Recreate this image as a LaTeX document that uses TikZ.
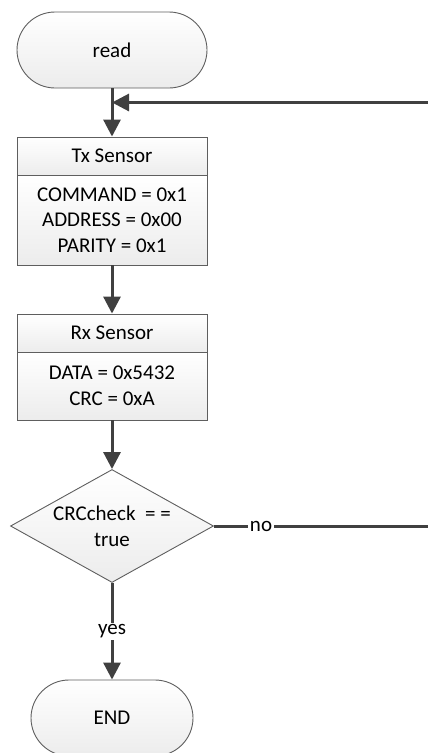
\documentclass[tikz,border=0pt]{standalone}
\usepackage{fontspec}
\setmainfont{Carlito}
\usetikzlibrary{arrows.meta,shapes.geometric}
\definecolor{edge}{HTML}{5E5E5E}
\definecolor{flow}{HTML}{404040}
\definecolor{shadebot}{HTML}{ECECEC}
\tikzset{
  boxfill/.style={draw=edge, line width=0.9pt, shading=axis, top color=white, bottom color=shadebot},
  terminal/.style={boxfill, rectangle, rounded corners=38pt, inner sep=0pt},
  block/.style={boxfill, rectangle, inner sep=0pt, minimum width=190pt, align=center},
  decision/.style={boxfill, diamond, inner sep=0pt, minimum width=203pt, minimum height=113pt},
  txt/.style={font=\fontsize{21pt}{25.5pt}\selectfont, align=center, inner sep=0pt},
  flowline/.style={draw=flow, line width=3pt, -{Triangle[length=17pt,width=17pt]}},
  plainline/.style={draw=flow, line width=3pt},
  lbl/.style={txt, fill=white, inner sep=1.5pt}
}
\begin{document}
\begin{tikzpicture}[x=1pt, y=-1pt]
\useasboundingbox (0,0) rectangle (428,753);

% start and end terminals
\node[terminal, minimum width=190pt, minimum height=76pt] (read) at (112,50) {};
\node[txt] (readt) at (read.center) {read};

% transmit block
\node[block, minimum height=38pt] (txh) at (112,156) {};
\node[block, minimum height=90pt] (txb) at (112,220) {};
\node[txt] (txht) at (txh.center) {Tx Sensor};
\node[txt] (txbt) at (txb.center) {COMMAND = 0x1\\ADDRESS = 0x00\\PARITY = 0x1};

% receive block
\node[block, minimum height=38pt] (rxh) at (112,333) {};
\node[block, minimum height=68pt] (rxb) at (112,386) {};
\node[txt] (rxht) at (rxh.center) {Rx Sensor};
\node[txt] (rxbt) at (rxb.center) {DATA = 0x5432\\CRC = 0xA};

% CRC decision
\node[decision] (dec) at (112,526) {};
\node[txt, font=\fontsize{21pt}{26pt}\selectfont] (dect) at (dec.center) {CRCcheck~~= =\\true};

\node[terminal, minimum width=162pt, minimum height=76pt] (done) at (112,718) {};
\node[txt] (donet) at (done.center) {END};

% loop return path
\coordinate (loopin) at (428,102.5);
\coordinate (join) at (112,102.5);
\coordinate (loopout) at (428,526);

% connectors
\draw[plainline] (read.south) -- (join);
\draw[flowline] (join) -- (txh.north);
\draw[flowline] (loopin) -- (join);
\draw[flowline] (txb.south) -- (rxh.north);
\draw[flowline] (rxb.south) -- (dec.north);
\draw[flowline] (dec.south) -- node[lbl] {yes} (done.north);
\draw[plainline] (dec.east) -- node[lbl, pos=0.22] {no} (loopout);
\end{tikzpicture}
\end{document}
